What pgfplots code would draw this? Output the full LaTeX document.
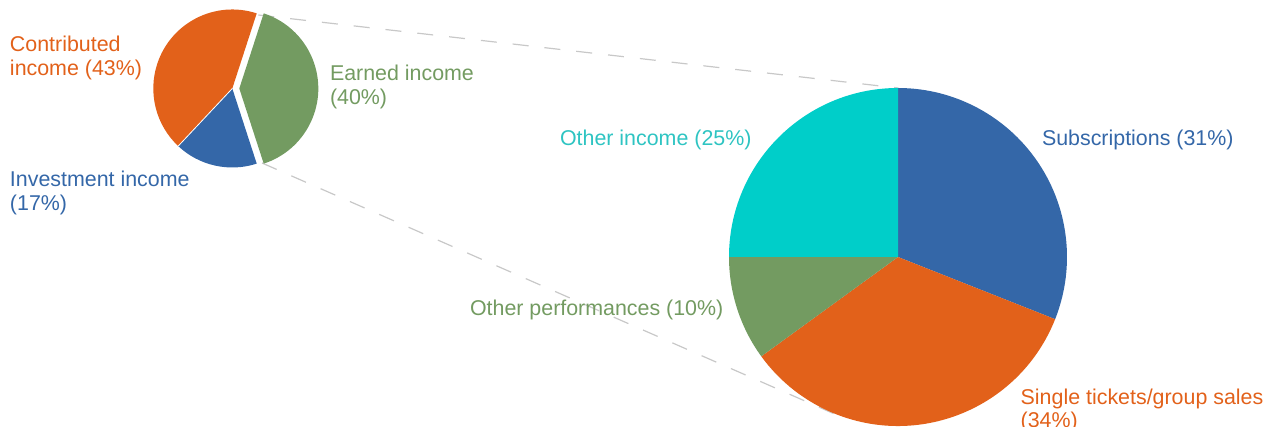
\documentclass[border=0pt]{standalone}
\usepackage{pgfplots}
\pgfplotsset{compat=1.18}
\usepackage{fontspec}
\setmainfont{Liberation Sans}
\definecolor{cOrange}{HTML}{E2611A}
\definecolor{cBlue}{HTML}{3467A8}
\definecolor{cGreen}{HTML}{739B61}
\definecolor{cCyan}{HTML}{00CEC9}
\definecolor{cCyanT}{HTML}{2EC4C2}
\definecolor{cLine}{HTML}{C8C8C8}
\tikzset{lbl/.style={font=\fontsize{10.7}{12}\selectfont, inner sep=0pt, outer sep=0pt, anchor=base west}}
\begin{document}
\begin{tikzpicture}
\begin{axis}[x=0.5pt, y=0.5pt, xmin=0, xmax=1269, ymin=0, ymax=427,
  hide axis, clip=false]
% connector lines
\draw[cLine, line width=0.6pt, dash pattern=on 8pt off 8pt] (axis cs:258.3,412) -- (axis cs:898,339);
\draw[cLine, line width=0.6pt, dash pattern=on 8pt off 8pt] (axis cs:262,264) -- (axis cs:846,8);
% small pie (percent: contributed 43, investment 17, earned 40)
\fill[cOrange] (axis cs:232.3,338.5) -- ++(72:39.5pt) arc[start angle=72, end angle=226.8, radius=39.5pt] -- cycle;
\fill[cBlue] (axis cs:232.3,338.5) -- ++(226.8:39.5pt) arc[start angle=226.8, end angle=288, radius=39.5pt] -- cycle;
\fill[cGreen] (axis cs:239.3,338.5) -- ++(-72:39.5pt) arc[start angle=-72, end angle=72, radius=39.5pt] -- cycle;
\draw[white, line width=0.4pt] (axis cs:232.3,338.5) -- ++(226.8:39.5pt);
% big pie (percent: subscriptions 31, single 34, other perf 10, other income 25)
\fill[cBlue] (axis cs:898,170) -- ++(90:84.5pt) arc[start angle=90, end angle=-21.6, radius=84.5pt] -- cycle;
\fill[cOrange] (axis cs:898,170) -- ++(-21.6:84.5pt) arc[start angle=-21.6, end angle=-144, radius=84.5pt] -- cycle;
\fill[cGreen] (axis cs:898,170) -- ++(-144:84.5pt) arc[start angle=-144, end angle=-180, radius=84.5pt] -- cycle;
\fill[cCyan] (axis cs:898,170) -- ++(180:84.5pt) arc[start angle=180, end angle=90, radius=84.5pt] -- cycle;
% labels
\node[lbl, text=cOrange] at (axis cs:10,375) {Contributed};
\node[lbl, text=cOrange] at (axis cs:10,351.5) {income (43\%)};
\node[lbl, text=cGreen] at (axis cs:330,346) {Earned income};
\node[lbl, text=cGreen] at (axis cs:330,322.5) {(40\%)};
\node[lbl, text=cBlue] at (axis cs:10,240) {Investment income};
\node[lbl, text=cBlue] at (axis cs:10,216.5) {(17\%)};
\node[lbl, text=cCyanT] at (axis cs:560,281) {Other income (25\%)};
\node[lbl, text=cBlue] at (axis cs:1042,281) {Subscriptions (31\%)};
\node[lbl, text=cGreen] at (axis cs:470,111) {Other performances (10\%)};
\node[lbl, text=cOrange] at (axis cs:1020.7,22.7) {Single tickets/group sales};
\node[lbl, text=cOrange] at (axis cs:1020.7,-0.8) {(34\%)};
\end{axis}
\pgfresetboundingbox
\useasboundingbox (0,0) rectangle (634.5pt,213.5pt);
\end{tikzpicture}
\end{document}
